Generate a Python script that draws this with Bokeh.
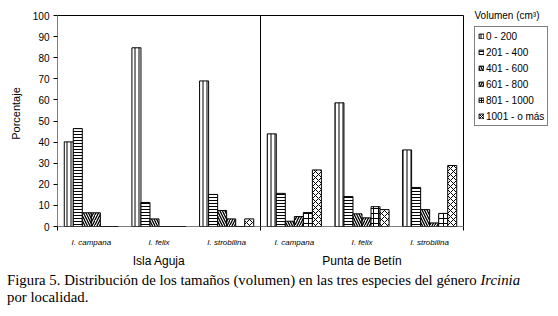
from bokeh.plotting import figure
from bokeh.models import Range1d, FixedTicker, Label, Legend, LegendItem, LinearAxis, Div, BoxAnnotation
from bokeh.layouts import column
from bokeh.embed import file_html
from bokeh.resources import INLINE

# ---------------- data ----------------
localities = ["Isla Aguja", "Punta de Betín"]
species = ["I. campana", "I. felix", "I. strobilina"]
size_classes = ["0 - 200", "201 - 400", "401 - 600", "601 - 800", "801 - 1000", "1001 - o más"]

# percentage per size class for the 6 groups
# (Isla Aguja: campana, felix, strobilina; Punta de Betín: campana, felix, strobilina)
v_0_200 = [40.1, 84.7, 69.0, 43.9, 58.6, 36.3]
v_201_400 = [46.4, 11.4, 15.2, 15.7, 14.2, 18.5]
v_401_600 = [6.5, 3.6, 7.6, 2.5, 6.0, 8.0]
v_601_800 = [6.5, 0.0, 3.6, 4.7, 4.1, 1.7]
v_801_1000 = [0.0, 0.0, 0.0, 6.6, 9.4, 6.2]
v_1001_mas = [0.0, 0.0, 3.6, 26.8, 8.0, 28.9]

y_ticks = [0, 10, 20, 30, 40, 50, 60, 70, 80, 90, 100]
legend_title = "Volumen (cm³)"
y_label = "Porcentaje"
caption_html = ("Figura 5. Distribución de los tamaños (volumen) en las tres especies del género "
                "<i>Ircinia</i><br>por localidad.")

series = [v_0_200, v_201_400, v_401_600, v_601_800, v_801_1000, v_1001_mas]

# ---------------- styling ----------------
W, H = 558, 316
FL, FR, FT, FB = 57, 463, 15, 226  # plot-area edges in px
MAIN_H = 270
Y_MAX = 100
n_groups = len(localities) * len(species)

hatch_styles = [
    ("vertical_line", 4, 1.0),
    ("horizontal_line", 3, 1.0),
    ("left_diagonal_line", 5, 1.3),
    ("right_diagonal_line", 5, 1.3),
    ("cross", 5, 1.0),
    ("diagonal_cross", 6, 1.0),
]
FONT = "Liberation Sans"

# the frame spans the whole width right of the y axis and up to the top edge,
# so that the legend and its title (which lie outside the plot box) are not clipped
x_end = n_groups * (W - FL) / (FR - FL)
y_end = Y_MAX * FB / (FB - FT)

p = figure(width=W, height=MAIN_H, x_range=Range1d(0, x_end), y_range=Range1d(0, y_end),
           output_backend="svg", toolbar_location=None,
           min_border_left=FL, min_border_right=0, min_border_top=0,
           min_border_bottom=MAIN_H - FB)
p.background_fill_color = "white"
p.border_fill_color = "white"
p.outline_line_color = None
p.xgrid.visible = False
p.ygrid.visible = False


def px2x(px):
    return (px - FL) * (FR - FL) ** -1 * n_groups


# plot-area box
p.add_layout(BoxAnnotation(left=0, right=n_groups, bottom=0, top=Y_MAX, fill_alpha=0,
                           line_color="black", line_width=1, line_alpha=1))

# y axis
ya = p.yaxis[0]
ya.ticker = FixedTicker(ticks=y_ticks, minor_ticks=[])
ya.major_tick_out = 4
ya.major_tick_in = 0
ya.minor_tick_out = 0
ya.minor_tick_in = 0
ya.axis_line_color = None
ya.major_tick_line_color = "black"
ya.major_label_text_font = FONT
ya.major_label_text_font_size = "10px"
ya.major_label_text_color = "black"
ya.major_label_standoff = 4
ya.axis_label = y_label
ya.axis_label_text_font = FONT
ya.axis_label_text_font_size = "11px"
ya.axis_label_text_font_style = "normal"
ya.axis_label_text_color = "black"
ya.axis_label_standoff = 8

# x axis: species labels at category centres, ticks at locality boundaries
centers = [i + 0.5 for i in range(n_groups)]
xa = p.xaxis[0]
xa.ticker = FixedTicker(ticks=centers, minor_ticks=[0, len(species), n_groups])
xa.major_label_overrides = {c: species[i % len(species)] for i, c in enumerate(centers)}
xa.major_tick_line_color = None
xa.major_tick_out = 4
xa.major_tick_in = 0
xa.minor_tick_out = 4
xa.minor_tick_in = 0
xa.minor_tick_line_color = "black"
xa.axis_line_color = None
xa.major_label_text_font = FONT
xa.major_label_text_font_size = "8px"
xa.major_label_text_font_style = "italic"
xa.major_label_text_color = "black"
xa.major_label_standoff = 7

# second axis below: locality names
loc_centers = [k * len(species) + len(species) / 2 for k in range(len(localities))]
xa2 = LinearAxis(ticker=FixedTicker(ticks=loc_centers, minor_ticks=[]),
                 major_label_overrides={c: localities[k] for k, c in enumerate(loc_centers)})
xa2.axis_line_color = None
xa2.major_tick_line_color = None
xa2.minor_tick_line_color = None
xa2.major_tick_out = 0
xa2.major_tick_in = 0
xa2.minor_tick_out = 0
xa2.minor_tick_in = 0
xa2.major_label_text_font = FONT
xa2.major_label_text_font_size = "12px"
xa2.major_label_text_color = "black"
xa2.major_label_standoff = 4
p.add_layout(xa2, "below")

# divider between localities
p.segment(x0=[len(species)], y0=[0], x1=[len(species)], y1=[Y_MAX], line_color="black", line_width=1)

# bars
bw = 0.8 / len(series)
renderers = []
for j, vals in enumerate(series):
    xs = [c + (j - (len(series) - 1) / 2) * bw for c in centers]
    pat, sc, wt = hatch_styles[j]
    r = p.vbar(x=xs, top=vals, width=bw, bottom=0, fill_color="white", line_color="black",
               line_width=1, hatch_pattern=pat, hatch_scale=sc, hatch_weight=wt, hatch_color="black")
    renderers.append(r)

# legend (box from x=474 px, bottom at y=126 px)
legend = Legend(items=[LegendItem(label=size_classes[j], renderers=[renderers[j]]) for j in range(len(series))],
                location=(474 - FL, FB - 126), orientation="vertical",
                glyph_width=6, glyph_height=6, label_height=12, spacing=4, padding=3, margin=0,
                label_standoff=2, border_line_color="black", border_line_width=1,
                background_fill_color="white", background_fill_alpha=1.0,
                label_text_font=FONT, label_text_font_size="10px", label_text_color="black")
p.add_layout(legend)
p.add_layout(Label(x=px2x(474), y=Y_MAX, text=legend_title, text_align="left", text_baseline="middle",
                   text_font=FONT, text_font_size="10px", text_color="black"))

# ---------------- caption ----------------
cap = Div(text=caption_html, width=W, height=H - MAIN_H, margin=0,
          styles={"font-family": "Liberation Serif", "font-size": "14.8px", "line-height": "17px",
                  "padding-left": "7px", "padding-top": "2px", "color": "black",
                  "background-color": "white"})

layout = column(p, cap, spacing=0)
open("out.html", "w").write(file_html(layout, INLINE))
